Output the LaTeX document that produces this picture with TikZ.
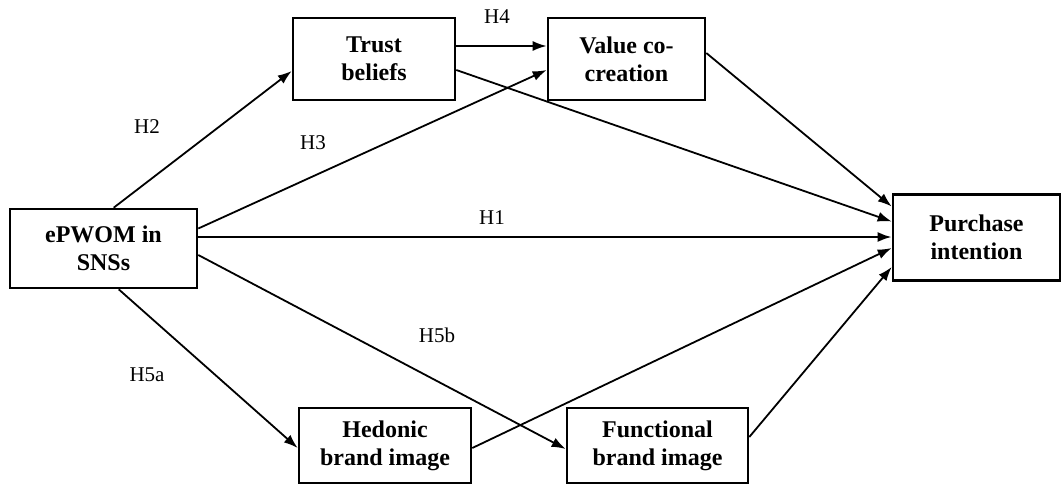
\documentclass[tikz,border=0pt]{standalone}
\usepackage{fontspec}
\setmainfont{Liberation Serif}
\usepackage{tikz}
\usetikzlibrary{arrows.meta,positioning}
\tikzset{
	varbox/.style={draw,line width=2.6pt,inner sep=0pt,align=center,font=\fontsize{24}{28}\selectfont\bfseries},
	hyp/.style={font=\fontsize{21}{25}\selectfont},
	path/.style={->,line width=1.8pt}
}
\begin{document}
\begin{tikzpicture}[x=1pt,y=-1pt,>={Latex[length=14pt,width=10pt]}]
			
			\useasboundingbox (0,0) rectangle (1063,485);
			
			% variables
			\node[varbox,minimum width=187pt,minimum height=79pt] (epwom) at (103.5,248.5) {ePWOM in\\SNSs};
			\node[varbox,minimum width=162pt,minimum height=82pt] (trust) at (374,59) {Trust\\beliefs};
			\node[varbox,minimum width=157pt,minimum height=82pt] (value) at (626.5,59) {Value co-\\creation};
			\node[varbox,minimum width=167pt,minimum height=86pt] (purchase) at (976.5,237.5) {Purchase\\intention};
			\node[varbox,minimum width=172pt,minimum height=75pt] (hedonic) at (385,445.5) {Hedonic\\brand image};
			\node[varbox,minimum width=181pt,minimum height=75pt] (functional) at (657.5,445.5) {Functional\\brand image};
			
			% paths
			\draw[path] ([xshift=105pt]epwom.north west) -- ([yshift=-12pt]trust.west);
			\draw[path] ([yshift=20pt]epwom.east) -- ([yshift=-11pt]value.west);
			\draw[path] ([yshift=13pt]trust.east) -- ([yshift=13pt]value.west);
			\draw[path] ([yshift=-11pt]trust.east) -- ([yshift=16pt]purchase.west);
			\draw[path] ([yshift=6pt]value.east) -- ([yshift=31pt]purchase.west);
			\draw[path,line width=2.3pt] ([yshift=11.5pt]epwom.east) -- ([yshift=0.5pt]purchase.west);
			\draw[path] ([yshift=-6.5pt]epwom.east) -- ([yshift=-3.5pt]functional.west);
			\draw[path] ([xshift=110pt]epwom.south west) -- ([yshift=-2.5pt]hedonic.west);
			\draw[path] ([yshift=-2.5pt]hedonic.east) -- ([yshift=-10.5pt]purchase.west);
			\draw[path] ([yshift=8.5pt]functional.east) -- ([yshift=-29.5pt]purchase.west);
			
			% hypotheses
			\node[hyp] (h2) at (147,127) {H2};
			\node[hyp] (h3) at (313,143) {H3};
			\node[hyp] (h4) at (497,17) {H4};
			\node[hyp] (h1) at (492,218) {H1};
			\node[hyp] (h5b) at (437,335) {H5b};
			\node[hyp] (h5a) at (147,375) {H5a};
			
		\end{tikzpicture}
\end{document}
